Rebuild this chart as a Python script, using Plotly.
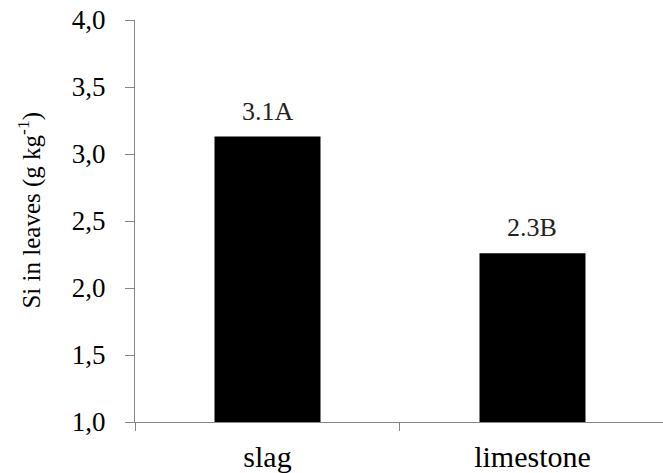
import plotly.graph_objects as go

categories = ["slag", "limestone"]
values = [3.13, 2.26]
bar_labels = ["3.1A", "2.3B"]
y_ticks = [1.0, 1.5, 2.0, 2.5, 3.0, 3.5, 4.0]

FONT = "Liberation Serif"
AXIS = "#868686"

fig = go.Figure()
fig.add_trace(go.Bar(
    x=categories, y=values, marker=dict(color="black", line=dict(width=0)),
    width=0.4,
))

for c, v, t in zip(categories, values, bar_labels):
    fig.add_annotation(x=c, y=v, text=t, showarrow=False, yanchor="bottom",
                       yshift=9, font=dict(family=FONT, size=26, color="#222"))

fig.add_annotation(xref="paper", yref="paper", x=-0.2, y=0.527,
                   xanchor="center", yanchor="middle",
                   text="Si in leaves (g kg<sup>-1</sup>)", textangle=-90,
                   showarrow=False, font=dict(family=FONT, size=25, color="black"))

fig.update_layout(
    width=663, height=473,
    margin=dict(l=135, r=0, t=20, b=51, autoexpand=False),
    paper_bgcolor="white", plot_bgcolor="white",
    separators=",.",
    showlegend=False,
    font=dict(family=FONT, size=26, color="black"),
)
fig.update_xaxes(
    range=[-0.5, 1.4925],
    showline=True, linecolor=AXIS, linewidth=1,
    ticks="outside", ticklen=8, tickcolor=AXIS, tickson="boundaries",
    tickfont=dict(family=FONT, size=30, color="black"),
    showgrid=False, zeroline=False, automargin=False, ticklabelstandoff=8,
)
fig.update_yaxes(
    range=[1, 4], tickvals=y_ticks, tickformat=".1f",
    showline=True, linecolor=AXIS, linewidth=1,
    ticks="outside", ticklen=9, tickcolor=AXIS,
    tickfont=dict(family=FONT, size=27, color="black"),
    showgrid=False, zeroline=False, ticklabelstandoff=14, automargin=False,
    ticklabeloverflow="allow",
)

fig.write_html("out.html", config={"displayModeBar": False},
               post_script="document.body.style.margin='0';")
